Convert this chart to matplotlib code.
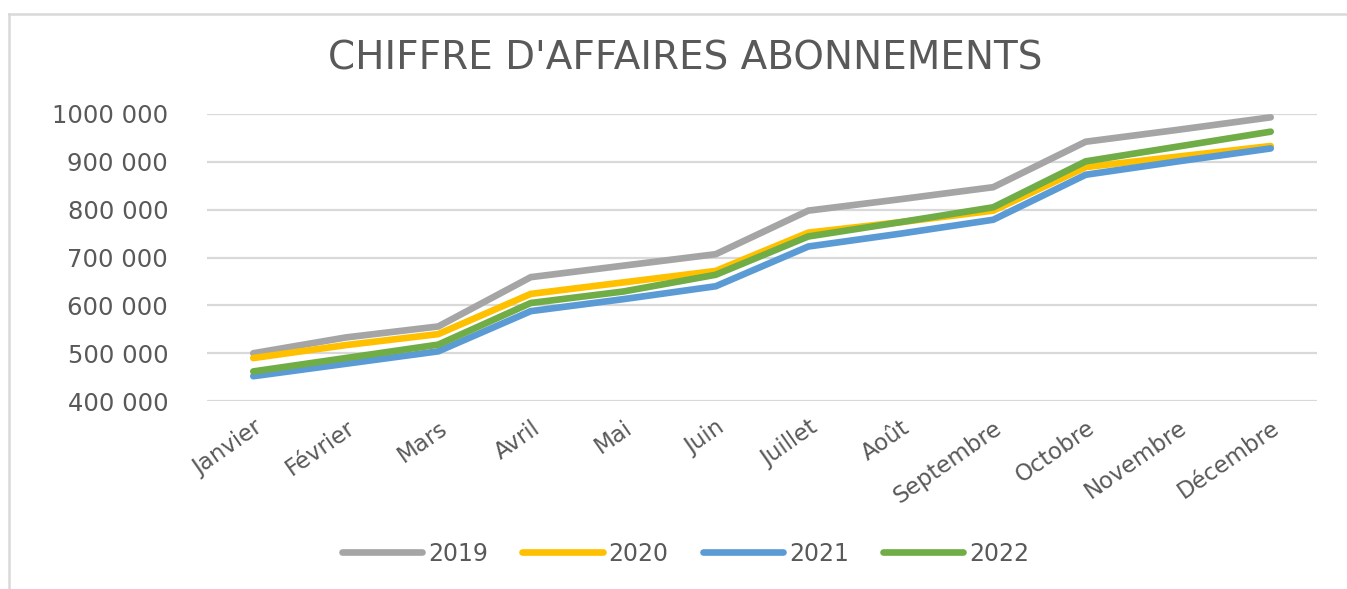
import matplotlib.pyplot as plt
from matplotlib.ticker import FuncFormatter
from matplotlib.lines import Line2D

mois = ["Janvier", "Février", "Mars", "Avril", "Mai", "Juin", "Juillet",
        "Août", "Septembre", "Octobre", "Novembre", "Décembre"]
ca_2019 = [500000, 533000, 556000, 659000, 683000, 707000, 798000, 822000, 847000, 942000, 967000, 993000]
ca_2020 = [490000, 517000, 540000, 624000, 648000, 672000, 752000, 774000, 798000, 889000, 911000, 933000]
ca_2021 = [452000, 478000, 504000, 588000, 613000, 640000, 723000, 750000, 779000, 873000, 901000, 928000]
ca_2022 = [462000, 490000, 518000, 605000, 629000, 664000, 744000, 774000, 805000, 901000, 932000, 963000]
annees = ["2019", "2020", "2021", "2022"]
couleurs = ["#A5A5A5", "#FFC000", "#5B9BD5", "#70AD47"]

plt.rcParams['font.family'] = ['DejaVu Sans']
gris_texte = "#595959"

fig = plt.figure(figsize=(13.47, 5.89), dpi=100)
ax = fig.add_axes([0.1537, 0.319, 0.824, 0.4875])

x = range(len(mois))
for serie, nom, c in zip([ca_2019, ca_2020, ca_2021, ca_2022], annees, couleurs):
    ax.plot(x, serie, color=c, linewidth=4.8, solid_capstyle="round",
            solid_joinstyle="miter", label=nom, clip_on=False)

ax.set_xlim(-0.5, 11.5)
ax.set_ylim(400000, 1000000)
ax.set_yticks(range(400000, 1000001, 100000))
ax.yaxis.set_major_formatter(FuncFormatter(lambda v, p: "{} {:03d}".format(int(v) // 1000, int(v) % 1000)))
ax.set_xticks(list(x))
ax.set_xticklabels(mois, rotation=35, ha="right", va="top", rotation_mode="anchor")
ax.tick_params(axis="y", length=0, pad=28, labelsize=17.5, labelcolor=gris_texte)
ax.tick_params(axis="x", length=0, pad=11, labelsize=16.5, labelcolor=gris_texte)
ax.grid(axis="y", color="#D9D9D9", linewidth=1.6)
ax.set_axisbelow(True)
for s in ax.spines.values():
    s.set_visible(False)

fig.text(0.509, 0.9, "CHIFFRE D'AFFAIRES ABONNEMENTS", ha="center", va="center",
         fontsize=28, color=gris_texte)

handles = [Line2D([0], [0], color=c, linewidth=4.8, solid_capstyle="round") for c in couleurs]
fig.legend(handles, annees, loc="center", bbox_to_anchor=(0.509, 0.06), ncol=4, frameon=False,
           fontsize=17, labelcolor=gris_texte, handlelength=3.4, handletextpad=0.25, columnspacing=1.45)

# cadre du graphique
fig.add_artist(Line2D([0.007, 1.0], [0.976, 0.976], color="#D9D9D9", linewidth=1.8))
fig.add_artist(Line2D([0.007, 0.007], [0.0, 0.976], color="#D9D9D9", linewidth=1.8))

fig.savefig("out.png", dpi=100, facecolor="white")
